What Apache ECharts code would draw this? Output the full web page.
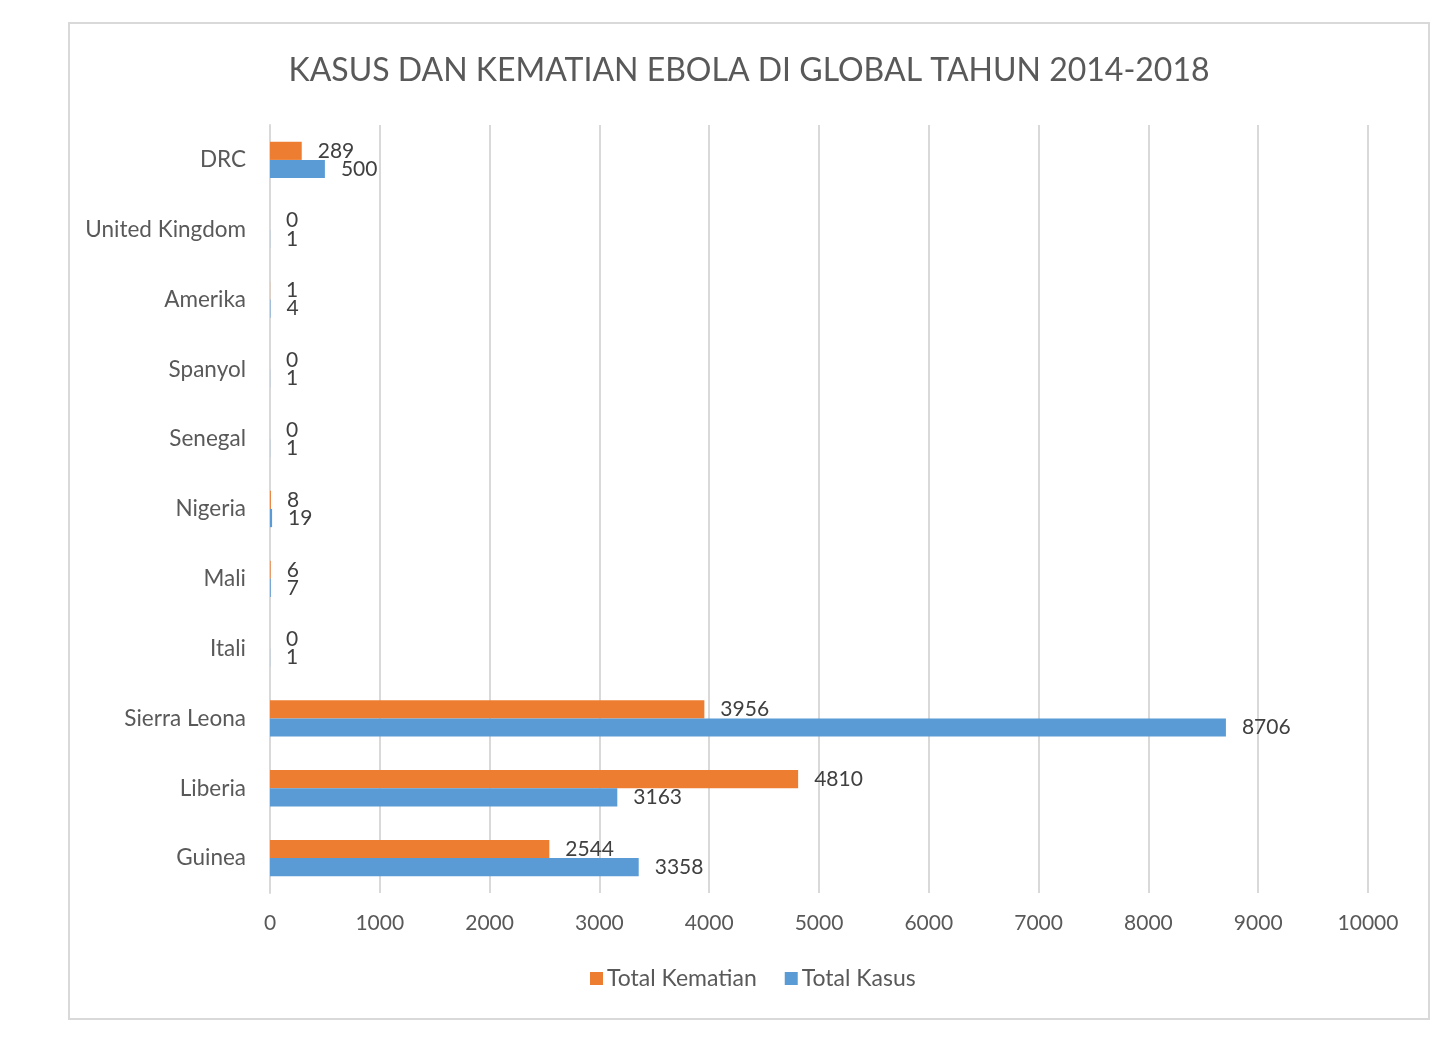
<!DOCTYPE html>
<html>
<head>
<meta charset="utf-8">
<script src="https://cdn.jsdelivr.net/npm/echarts@6/dist/echarts.min.js"></script>
<style>
  html, body { margin: 0; padding: 0; background: #fff; }
  #chart { width: 1442px; height: 1039px; }
</style>
</head>
<body>
<div id="chart"></div>
<script>
// bottom to top, like the Excel source
const countries = ['Guinea', 'Liberia', 'Sierra Leona', 'Itali', 'Mali', 'Nigeria', 'Senegal', 'Spanyol', 'Amerika', 'United Kingdom', 'DRC'];
const totalKasus = [3358, 3163, 8706, 1, 7, 19, 1, 1, 4, 1, 500];
const totalKematian = [2544, 4810, 3956, 0, 6, 8, 0, 0, 1, 0, 289];

const FONT = 'Lato, "Open Sans", sans-serif';
const TEXT = '#595959';

const chart = echarts.init(document.getElementById('chart'));

const labelStyle = {
  show: true,
  position: 'right',
  distance: 16,
  color: '#404040',
  fontSize: 21,
  fontFamily: FONT
};

const option = {
  backgroundColor: '#fff',
  animation: false,
  textStyle: { fontFamily: FONT },
  title: {
    text: 'KASUS DAN KEMATIAN EBOLA DI GLOBAL TAHUN 2014-2018',
    left: 744,
    top: 50,
    textAlign: 'center',
    textStyle: { color: TEXT, fontSize: 32, fontWeight: 'normal', fontFamily: FONT }
  },
  legend: {
    data: ['Total Kematian', 'Total Kasus'],
    left: 585,
    top: 962,
    icon: 'rect',
    itemWidth: 13,
    itemHeight: 13,
    itemGap: 28,
    itemStyle: { borderWidth: 0 },
    textStyle: { color: TEXT, fontSize: 23, fontFamily: FONT, padding: [0, 0, 0, -1] }
  },
  grid: { left: 270, right: 74, top: 125, bottom: 146 },
  xAxis: {
    type: 'value',
    min: 0,
    max: 10000,
    interval: 1000,
    axisLine: { show: false },
    axisTick: { show: false },
    axisLabel: { color: TEXT, fontSize: 21, margin: 20, fontFamily: FONT, formatter: v => String(v) },
    splitLine: { lineStyle: { color: '#d9d9d9', width: 2 } }
  },
  yAxis: {
    type: 'category',
    data: countries,
    axisLine: { lineStyle: { color: '#d9d9d9', width: 2 } },
    axisTick: { show: false },
    axisLabel: { color: TEXT, fontSize: 22.5, margin: 24, fontFamily: FONT }
  },
  series: [
    {
      name: 'Total Kematian',
      type: 'bar',
      data: totalKematian,
      barGap: '0%',
      barCategoryGap: '48%',
      itemStyle: { color: '#ed7d31' },
      label: labelStyle
    },
    {
      name: 'Total Kasus',
      type: 'bar',
      data: totalKasus,
      itemStyle: { color: '#5b9bd5' },
      label: labelStyle
    }
  ],
  graphic: [{
    type: 'rect',
    shape: { x: 69, y: 23, width: 1360, height: 996 },
    style: { fill: 'none', stroke: '#d9d9d9', lineWidth: 2 },
    silent: true,
    z: -1
  }]
};

chart.setOption(option);
</script>
</body>
</html>
